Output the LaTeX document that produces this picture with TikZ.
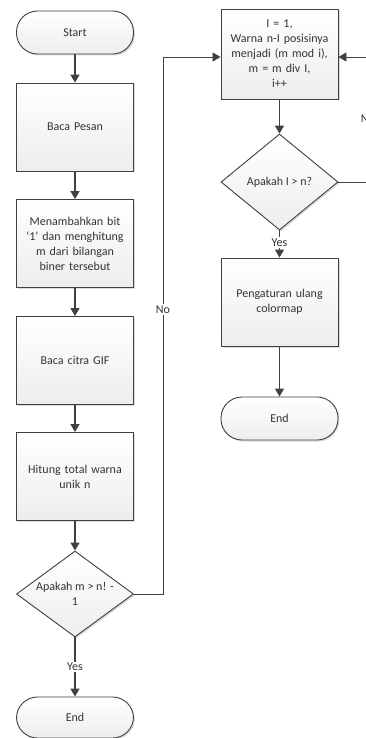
\documentclass[tikz,border=0pt]{standalone}
\usepackage{fontspec}
\setmainfont{Carlito}
\usetikzlibrary{arrows.meta,shapes.geometric,shadows}
\definecolor{ln}{HTML}{404040}
\definecolor{tx}{HTML}{333333}
\begin{document}
\begin{tikzpicture}[x=1pt,y=-1pt,
  font=\fontsize{12}{15}\selectfont, text=tx,
  boxbase/.style={draw=ln, line width=0.9pt, top color=white, bottom color=gray!14,
    drop shadow={shadow xshift=1.5pt, shadow yshift=-1.5pt, fill=gray!45, opacity=0.6}},
  procbox/.style={boxbase, rectangle, minimum width=117pt, minimum height=88pt, inner sep=2pt, align=center, text width=112pt},
  termbox/.style={boxbase, rectangle, rounded corners=21pt, minimum width=117pt, minimum height=43pt, inner sep=0pt},
  decbox/.style={boxbase, diamond, minimum width=117pt, minimum height=86pt, inner sep=0pt, aspect=1.36},
  lbl/.style={align=center, inner sep=1pt},
  flow/.style={draw=ln, line width=1.4pt, -{Triangle[length=8pt,width=9pt]}},
  loopln/.style={draw=ln, line width=0.8pt, -{Triangle[length=8pt,width=9pt]}},
  yesno/.style={fill=white, inner sep=1.5pt, text=tx}
]
\useasboundingbox (0,0) rectangle (366,738);
\fill[white] (0,0) rectangle (366,738);

% left column
\node[termbox] (start) at (75,32.5) {Start};
\node[procbox] (p1) at (75,127) {Baca Pesan};
\node[procbox] (p2) at (75,243.5) {Menambahkan bit\\‘1’ dan menghitung\\m dari bilangan\\biner tersebut};
\node[procbox] (p3) at (75,360.5) {Baca citra GIF};
\node[procbox] (p4) at (75,476.5) {Hitung total warna\\unik n};
\node[decbox, minimum height=86pt] (d1) at (75,594) {};
\node[lbl] (d1t) at (75,594) {Apakah m > n! -\\1};
\node[termbox, minimum height=41pt] (end1) at (75,717.5) {End};

% right column
\node[procbox, minimum height=90pt] (q1) at (279.5,54) {I = 1,\\Warna n-I posisinya\\menjadi (m mod i),\\m = m div I,\\i++};
\node[decbox, minimum height=96pt] (d2) at (279.5,182) {};
\node[lbl] (d2t) at (279.5,182) {Apakah I > n?};
\node[procbox] (q2) at (279.5,302) {Pengaturan ulang\\colormap};
\node[termbox] (end2) at (279.5,418.5) {End};

\coordinate (la) at (163,594);
\coordinate (lb) at (163,57);
\coordinate (ra) at (368,182);
\coordinate (rb) at (368,57);

% flows
\draw[flow] (start) -- (p1);
\draw[flow] (p1) -- (p2);
\draw[flow] (p2) -- (p3);
\draw[flow] (p3) -- (p4);
\draw[flow] (p4) -- (d1);
\draw[flow] (d1) -- node[yesno] (yes1) {Yes} (end1);
\draw[flow] (q1) -- (d2);
\draw[flow] (d2) -- node[yesno, pos=0.45] (yes2) {Yes} (q2);
\draw[flow] (q2) -- (end2);

% loops
\draw[loopln] (d1.east) -- (la) -- node[yesno, pos=0.53] (no1) {No} (lb) -- (q1.west |- lb);
\draw[loopln] (d2.east) -- (ra) -- node[yesno, pos=0.51] (no2) {No} (rb) -- (q1.east |- rb);
\end{tikzpicture}
\end{document}
